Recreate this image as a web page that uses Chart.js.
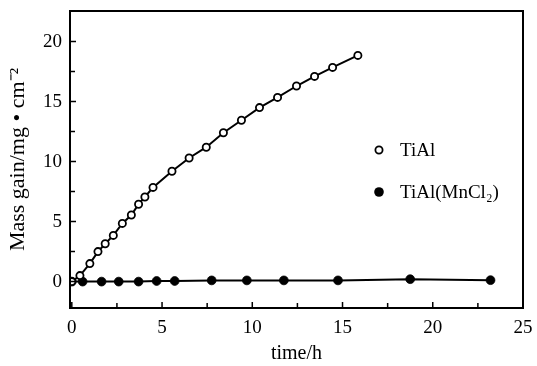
<!DOCTYPE html>
<html>
<head>
<meta charset="utf-8">
<script src="https://cdn.jsdelivr.net/npm/chart.js@4.4.0/dist/chart.umd.min.js"></script>
<style>
    html, body { margin: 0; padding: 0; background: #fff; }
    #wrap { width: 537px; height: 366px; position: relative; }
</style>
</head>
<body>
<div id="wrap"><canvas id="chart"></canvas></div>
<script>
// data
const tialTime = [0, 0.45, 1.0, 1.45, 1.85, 2.3, 2.8, 3.3, 3.7, 4.05, 4.5, 5.55, 6.5, 7.45, 8.4, 9.4, 10.4, 11.4, 12.45, 13.45, 14.45, 15.85];
const tialGain = [0, 0.5, 1.5, 2.5, 3.15, 3.85, 4.85, 5.55, 6.45, 7.05, 7.85, 9.2, 10.3, 11.2, 12.4, 13.45, 14.5, 15.35, 16.3, 17.1, 17.85, 18.85];
const mnTime = [0, 0.6, 1.65, 2.6, 3.7, 4.7, 5.7, 7.75, 9.7, 11.75, 14.75, 18.75, 23.2];
const mnGain = [0, 0, 0, 0, 0, 0.05, 0.05, 0.1, 0.1, 0.1, 0.1, 0.2, 0.12];
const seriesNames = ['TiAl', 'TiAl(MnCl\u2082)'];
const xTicks = [0, 5, 10, 15, 20, 25];
const yTicks = [0, 5, 10, 15, 20];
const xMinor = [2.5, 7.5, 12.5, 17.5, 22.5];
const yMinor = [2.5, 7.5, 12.5, 17.5];

const FONT = 'Liberation Serif';

const toPoints = (xs, ys) => xs.map((x, i) => ({ x, y: ys[i] }));

// frame, inward ticks and the in-plot legend
const framePlugin = {
    id: 'frame',
    afterDatasetsDraw(chart) {
        const { ctx, chartArea: a, scales } = chart;
        ctx.save();
        ctx.strokeStyle = '#000';
        ctx.lineWidth = 2;
        ctx.strokeRect(a.left, a.top, a.right - a.left, a.bottom - a.top);

        ctx.lineWidth = 1.5;
        ctx.beginPath();
        xTicks.concat(xMinor).forEach(v => {
            const px = scales.x.getPixelForValue(v);
            const len = xTicks.includes(v) ? 6 : 5;
            ctx.moveTo(px, a.bottom);
            ctx.lineTo(px, a.bottom - len);
        });
        yTicks.concat(yMinor).forEach(v => {
            const py = scales.y.getPixelForValue(v);
            const len = yTicks.includes(v) ? 6 : 5;
            ctx.moveTo(a.left, py);
            ctx.lineTo(a.left + len, py);
        });
        ctx.stroke();

        // legend
        const lx = a.right - 144;
        const rows = [a.top + 139, a.top + 181];
        ctx.font = '19px "' + FONT + '"';
        ctx.textBaseline = 'middle';
        ctx.fillStyle = '#000';
        rows.forEach((ly, i) => {
            ctx.beginPath();
            if (i === 0) {
                ctx.arc(lx, ly, 3.6, 0, Math.PI * 2);
                ctx.fillStyle = '#fff';
                ctx.fill();
                ctx.lineWidth = 1.8;
                ctx.stroke();
            } else {
                ctx.arc(lx, ly, 4.8, 0, Math.PI * 2);
                ctx.fillStyle = '#000';
                ctx.fill();
            }
            ctx.fillStyle = '#000';
            ctx.fillText(seriesNames[i], lx + 21, ly + 1);
        });
        ctx.restore();
    }
};

new Chart(document.getElementById('chart'), {
    type: 'scatter',
    data: {
        datasets: [
            {
                label: seriesNames[0],
                data: toPoints(tialTime, tialGain),
                showLine: true,
                borderColor: '#000',
                borderWidth: 2,
                pointRadius: 3.6,
                pointBorderWidth: 1.8,
                pointBackgroundColor: '#fff',
                pointBorderColor: '#000',
            },
            {
                label: seriesNames[1],
                data: toPoints(mnTime, mnGain),
                showLine: true,
                borderColor: '#000',
                borderWidth: 2,
                pointRadius: 4.4,
                pointBorderWidth: 0.8,
                pointBackgroundColor: '#000',
                pointBorderColor: '#000',
            },
        ],
    },
    options: {
        responsive: true,
        maintainAspectRatio: false,
        animation: false,
        layout: { padding: { top: 11, right: 14, left: 0, bottom: 0 } },
        plugins: {
            legend: { display: false },
            tooltip: { enabled: false },
        },
        scales: {
            x: {
                type: 'linear',
                min: -0.1,
                max: 25,
                afterBuildTicks: s => { s.ticks = xTicks.map(v => ({ value: v })); },
                afterFit: s => { s.height = 58; s.paddingLeft = 0; s.paddingRight = 0; },
                grid: { display: false, drawTicks: false },
                border: { display: false },
                ticks: {
                    color: '#000',
                    padding: 9,
                    font: { family: FONT, size: 19 },
                },
                title: {
                    display: true,
                    text: 'time/h',
                    color: '#000',
                    font: { family: FONT, size: 20 },
                    padding: { top: 6, bottom: 0 },
                },
            },
            y: {
                type: 'linear',
                min: -2.2,
                max: 22.55,
                afterBuildTicks: s => { s.ticks = yTicks.map(v => ({ value: v })); },
                afterFit: s => { s.width = 70; s.paddingTop = 0; s.paddingBottom = 0; },
                grid: { display: false, drawTicks: false },
                border: { display: false },
                ticks: {
                    color: '#000',
                    padding: 8,
                    font: { family: FONT, size: 19 },
                },
                title: {
                    display: true,
                    text: 'Mass gain/mg \u2022 cm\u207B\u00B2',
                    color: '#000',
                    font: { family: FONT, size: 22 },
                    padding: { top: 5, bottom: 0 },
                },
            },
        },
    },
    plugins: [framePlugin],
});
</script>
</body>
</html>
